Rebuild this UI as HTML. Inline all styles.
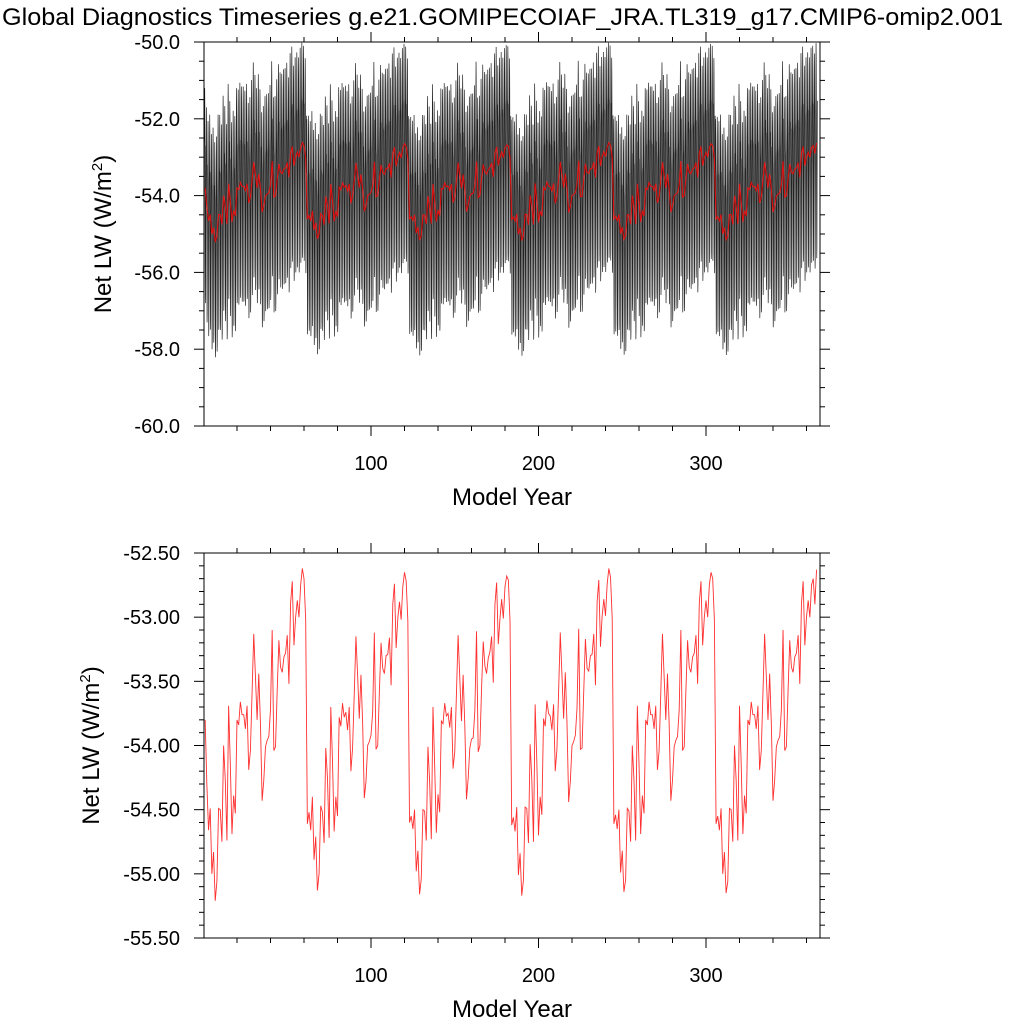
<!DOCTYPE html>
<html><head><meta charset="utf-8">
<style>
html,body{margin:0;padding:0;background:#fff;}
svg{display:block;font-family:"Liberation Sans",sans-serif;}
</style></head>
<body>
<svg id="chart" width="1024" height="1024" viewBox="0 0 1024 1024">
<text x="2" y="25" font-size="24" textLength="1001" lengthAdjust="spacingAndGlyphs">Global Diagnostics Timeseries g.e21.GOMIPECOIAF_JRA.TL319_g17.CMIP6-omip2.001</text>
<g id="top"></g>
<g id="bot"></g>
</svg>
<script>
const annual = [
-53.80,-54.30,-54.66,-54.49,-55.00,-54.83,-55.21,-55.06,-54.49,-54.50,-54.75,-54.00,-54.27,-54.74,-53.69,-54.14,-54.69,-54.39,-54.53,-53.80,-53.84,-53.66,-53.76,-53.76,-53.87,-53.69,-54.19,-54.04,-53.59,-53.13,-53.46,-53.80,-53.44,-53.83,-54.43,-54.27,-54.01,-53.96,-53.93,-53.72,-53.10,-54.04,-54.01,-53.57,-53.18,-53.39,-53.43,-53.31,-53.28,-53.14,-53.52,-52.89,-52.72,-53.22,-53.00,-52.87,-53.00,-52.75,-52.62,-52.70,-53.02,
-54.61,-54.52,-54.66,-54.40,-54.89,-54.71,-55.13,-55.00,-54.47,-54.52,-54.76,-54.02,-54.25,-54.72,-53.70,-54.12,-54.67,-54.40,-54.55,-53.78,-53.85,-53.67,-53.78,-53.74,-53.88,-53.70,-54.20,-54.02,-53.60,-53.15,-53.45,-53.79,-53.45,-53.82,-54.41,-54.28,-54.00,-53.97,-53.92,-53.74,-53.12,-54.03,-54.00,-53.58,-53.20,-53.40,-53.44,-53.30,-53.29,-53.16,-53.53,-52.90,-52.74,-53.24,-53.01,-52.88,-53.02,-52.76,-52.65,-52.72,-53.03,
-54.60,-54.55,-54.65,-54.50,-54.98,-54.82,-55.16,-55.04,-54.50,-54.51,-54.74,-54.01,-54.28,-54.73,-53.70,-54.15,-54.68,-54.38,-54.52,-53.81,-53.83,-53.67,-53.77,-53.75,-53.86,-53.70,-54.18,-54.05,-53.60,-53.14,-53.47,-53.81,-53.45,-53.84,-54.42,-54.26,-54.02,-53.95,-53.94,-53.73,-53.11,-54.05,-54.00,-53.56,-53.19,-53.38,-53.44,-53.32,-53.27,-53.15,-53.51,-52.90,-52.73,-53.21,-53.01,-52.86,-53.01,-52.76,-52.68,-52.71,-53.03,
-54.62,-54.56,-54.67,-54.48,-55.01,-54.84,-55.17,-55.05,-54.48,-54.49,-54.76,-53.99,-54.26,-54.75,-53.68,-54.13,-54.70,-54.40,-54.54,-53.79,-53.85,-53.65,-53.75,-53.77,-53.88,-53.68,-54.20,-54.03,-53.58,-53.12,-53.45,-53.79,-53.43,-53.82,-54.44,-54.28,-54.00,-53.97,-53.92,-53.71,-53.09,-54.03,-54.02,-53.58,-53.17,-53.40,-53.42,-53.30,-53.29,-53.13,-53.53,-52.88,-52.71,-53.23,-52.99,-52.86,-52.99,-52.74,-52.62,-52.69,-53.01,
-54.61,-54.54,-54.65,-54.50,-54.99,-54.82,-55.14,-55.05,-54.49,-54.51,-54.75,-54.00,-54.27,-54.74,-53.69,-54.14,-54.69,-54.39,-54.53,-53.80,-53.84,-53.66,-53.76,-53.76,-53.87,-53.69,-54.19,-54.04,-53.59,-53.13,-53.46,-53.80,-53.44,-53.83,-54.43,-54.27,-54.01,-53.96,-53.93,-53.72,-53.10,-54.04,-54.01,-53.57,-53.18,-53.39,-53.43,-53.31,-53.28,-53.14,-53.52,-52.89,-52.72,-53.22,-53.00,-52.87,-53.00,-52.75,-52.65,-52.70,-53.02,
-54.61,-54.55,-54.66,-54.49,-55.00,-54.83,-55.15,-55.06,-54.49,-54.50,-54.75,-54.00,-54.27,-54.74,-53.69,-54.14,-54.69,-54.39,-54.53,-53.80,-53.84,-53.66,-53.76,-53.76,-53.87,-53.69,-54.19,-54.04,-53.59,-53.13,-53.46,-53.80,-53.44,-53.83,-54.43,-54.27,-54.01,-53.96,-53.93,-53.72,-53.10,-54.04,-54.01,-53.57,-53.18,-53.39,-53.43,-53.31,-53.28,-53.14,-53.52,-52.89,-52.72,-53.22,-53.00,-52.87,-53.00,-52.75,-52.70,-52.90,-52.63
];
const seasonal = [1.2,2.0,2.6,2.2,1.0,-0.5,-2.0,-3.0,-2.8,-1.6,-0.2,1.1];
const xTicks = [100,200,300];
const topYTicks = [-50,-52,-54,-56,-58,-60];
const botYTicks = [-52.5,-53,-53.5,-54,-54.5,-55,-55.5];

const NS = "http://www.w3.org/2000/svg";
const L = 204, R = 820;
function xs(yr){ return 371 + (yr - 100) * 1.675; }
function mk(tag, attrs, parent){ const e = document.createElementNS(NS, tag); for (const k in attrs) e.setAttribute(k, attrs[k]); parent.appendChild(e); return e; }

function panel(g, top, bot, ymax, ymin, yTicks, minorStep, dec, prefix, ytx){
  const ys = v => top + (ymax - v) / (ymax - ymin) * (bot - top);
  const cid = prefix + "-clip";
  const cp = mk("clipPath", {id: cid}, g);
  mk("rect", {x: L, y: top, width: R - L, height: bot - top}, cp);
  return {ys, cid, draw(){
    const fr = mk("rect", {x: L, y: top, width: R - L, height: bot - top, fill: "none", stroke: "#000", "stroke-width": 1}, g);
    
    
    const n = Math.round((ymax - ymin) / minorStep);
    for (let i = 0; i <= n; i++){
      const v = ymin + i * minorStep;
      const y = ys(v);
      const major = yTicks.some(t => Math.abs(t - v) < 1e-6);
      const len = major ? 10 : 5;
      mk("line", {x1: L, x2: L - len, y1: y, y2: y, stroke: "#000", "stroke-width": 1}, g);
      mk("line", {x1: R, x2: R + len, y1: y, y2: y, stroke: "#000", "stroke-width": 1}, g);
    }
    yTicks.forEach(v => {
      const t = mk("text", {x: L - 24, y: ys(v) + 7, "text-anchor": "end", "font-size": 20}, g);
      t.textContent = v.toFixed(dec);
      
      
    });
    for (let yr = 20; yr <= 360; yr += 20){
      const x = xs(yr);
      const major = xTicks.includes(yr);
      const len = major ? 10 : 5;
      mk("line", {x1: x, x2: x, y1: bot, y2: bot + len, stroke: "#000", "stroke-width": 1}, g);
      mk("line", {x1: x, x2: x, y1: top, y2: top - len, stroke: "#000", "stroke-width": 1}, g);
    }
    xTicks.forEach(v => {
      const t = mk("text", {x: xs(v), y: bot + 44, "text-anchor": "middle", "font-size": 20}, g);
      t.textContent = v;
      
      
    });
    const xt = mk("text", {x: 512, y: bot + 79, "text-anchor": "middle", "font-size": 24}, g);
    xt.textContent = "Model Year";
    
    
    const cy = (top + bot) / 2;
    const yt = mk("text", {x: 0, y: 0, "text-anchor": "middle", "font-size": 24, transform: "translate(" + ytx + "," + cy + ") rotate(-90)"}, g);
    yt.innerHTML = 'Net LW (W/m<tspan dy="-9" font-size="15">2</tspan><tspan dy="9">)</tspan>';
    
    
  }};
}

const gT = document.getElementById("top");
const pT = panel(gT, 42, 426, -50, -60, topYTicks, 0.5, 1, "top", 111);
let d = "";
annual.forEach((a, i) => {
  seasonal.forEach((s, m) => {
    const x = xs(i + 1 + (m - 5.5) / 12), y = pT.ys(a + s);
    d += (d ? "L" : "M") + x.toFixed(2) + "," + y.toFixed(2);
  });
});
const mon = mk("path", {d, fill: "none", stroke: "#222", "stroke-width": 0.7, "clip-path": "url(#top-clip)"}, gT);


let dA = annual.map((a, i) => (i ? "L" : "M") + xs(i + 1).toFixed(2) + "," + pT.ys(a).toFixed(2)).join("");
const annT = mk("path", {d: dA, fill: "none", stroke: "#e01010", "stroke-width": 1.1, "clip-path": "url(#top-clip)"}, gT);


pT.draw();

const gB = document.getElementById("bot");
const pB = panel(gB, 553, 938, -52.5, -55.5, botYTicks, 0.1, 2, "bottom", 99);
let dB = annual.map((a, i) => (i ? "L" : "M") + xs(i + 1).toFixed(2) + "," + pB.ys(a).toFixed(2)).join("");
const annB = mk("path", {d: dB, fill: "none", stroke: "#ff3030", "stroke-width": 0.9, "clip-path": "url(#bottom-clip)"}, gB);


pB.draw();
</script>
</body></html>
